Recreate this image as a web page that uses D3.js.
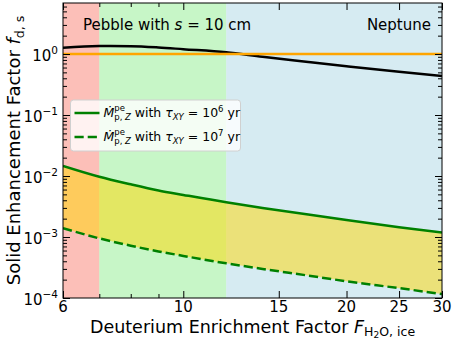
<!DOCTYPE html>
<html>
<head>
<meta charset="utf-8">
<script src="https://cdn.jsdelivr.net/npm/d3@7"></script>
<style>
body { margin: 0; background: #fff; }
text { font-family: "DejaVu Sans", sans-serif; fill: #000; white-space: pre; }
</style>
</head>
<body>
<svg class="chart" width="452" height="339"></svg>
<script>
// Values
var fEnrich = [6, 7, 8, 9, 10, 12, 14, 17, 20, 25, 30];
var fdPebble = [1.27, 1.35, 1.34, 1.28, 1.20, 1.07, 0.90, 0.74, 0.63, 0.51, 0.436];
var fdNeptune = [1, 1, 1, 1, 1, 1, 1, 1, 1, 1, 1];
var fdTau6 = [0.0146, 0.0097, 0.0073, 0.0058, 0.0049, 0.0037, 0.0030, 0.00233, 0.0019, 0.00145, 0.00118];
var fdTau7 = [0.0014, 0.00095, 0.00072, 0.00058, 0.00049, 0.00037, 0.00030, 0.000233, 0.000188, 0.000145, 0.000116];

// Shaded regimes along F
var regionStart = [6, 7, 12];
var regionEnd = [7, 12, 30];
var regionColor = ['#fa8072', '#90ee90', '#add8e6'];

var xMajorTicks = [6, 10, 15, 20, 25, 30];
var xMinorTicks = [7, 8, 9];
var yDomain = [1e-4, 6.86];

// Layout
var margin = {top: 3, right: 10, bottom: 41, left: 63};
var width = 452 - margin.left - margin.right;
var height = 339 - margin.top - margin.bottom;

var x = d3.scaleLog().domain([6, 30]).range([0, width]);
var y = d3.scaleLog().domain(yDomain).range([height, 0]);

var svg = d3.select('.chart');
var plot = svg.append('g')
  .attr('transform', 'translate(' + margin.left + ',' + margin.top + ')');

plot.append('clipPath').attr('id', 'clip')
  .append('rect').attr('width', width).attr('height', height);

var inner = plot.append('g').attr('clip-path', 'url(#clip)');

// Background regimes
inner.selectAll('.region')
  .data(regionStart)
  .enter()
  .append('rect')
  .attr('x', function (d) { return x(d); })
  .attr('width', function (d, i) { return x(regionEnd[i]) - x(d); })
  .attr('y', 0)
  .attr('height', height)
  .attr('fill', function (d, i) { return regionColor[i]; })
  .attr('fill-opacity', 0.5);

// Band between the two timescales
var band = d3.area()
  .x(function (d, i) { return x(fEnrich[i]); })
  .y0(function (d, i) { return y(fdTau7[i]); })
  .y1(function (d) { return y(d); })
  .curve(d3.curveMonotoneX);

inner.append('path')
  .datum(fdTau6)
  .attr('d', band)
  .attr('fill', 'gold')
  .attr('fill-opacity', 0.5);

function curve (values) {
  return d3.line()
    .x(function (d, i) { return x(fEnrich[i]); })
    .y(function (d) { return y(d); })
    .curve(d3.curveMonotoneX)(values);
}

inner.append('path').attr('d', curve(fdTau6))
  .attr('fill', 'none').attr('stroke', 'green').attr('stroke-width', 2.5);
inner.append('path').attr('d', curve(fdTau7))
  .attr('fill', 'none').attr('stroke', 'green').attr('stroke-width', 2.5)
  .attr('stroke-dasharray', '9.2,4');
inner.append('path').attr('d', curve(fdPebble))
  .attr('fill', 'none').attr('stroke', '#000').attr('stroke-width', 2.5);
inner.append('path').attr('d', curve(fdNeptune))
  .attr('fill', 'none').attr('stroke', 'orange').attr('stroke-width', 2.5);

// Text with sub/superscripts, built piece by piece
function richText (parent, px, py, parts, anchor, rotate) {
  var g = parent.append('g');
  var cx = 0, prevStart = 0, prevEnd = 0;
  parts.forEach(function (p) {
    var t = g.append('text')
      .attr('y', p.dy || 0)
      .style('font-size', p.size + 'px')
      .style('font-style', p.italic ? 'italic' : 'normal')
      .text(p.t);
    var w = t.node().getComputedTextLength();
    var start = p.stack ? prevStart : cx;
    t.attr('x', start);
    prevEnd = p.stack ? Math.max(prevEnd, start + w) : start + w;
    prevStart = start;
    cx = prevEnd;
  });
  var shift = anchor === 'middle' ? -cx / 2 : (anchor === 'end' ? -cx : 0);
  g.attr('transform', 'translate(' + px + ',' + py + ')' +
    (rotate ? ' rotate(' + rotate + ')' : '') + ' translate(' + shift + ',0)');
  return g;
}

// Annotations
richText(plot, 20, 27, [
  {t: 'Pebble with ', size: 15},
  {t: 's', size: 15, italic: true},
  {t: ' = 10 cm', size: 15}
], 'start');
richText(plot, 368, 27, [{t: 'Neptune', size: 15}], 'end');

// Legend
var legend = plot.append('g').attr('transform', 'translate(7.5,97)');
legend.append('rect')
  .attr('width', 170).attr('height', 51)
  .attr('rx', 3)
  .attr('fill', '#fff').attr('fill-opacity', 0.8)
  .attr('stroke', '#d0d0d0').attr('stroke-width', 1);

var legendDash = ['', '9.2,4'];
var legendExp = ['6', '7'];
legendDash.forEach(function (dash, i) {
  var ly = 13 + i * 24;
  legend.append('line')
    .attr('x1', 4).attr('x2', 29).attr('y1', ly).attr('y2', ly)
    .attr('stroke', 'green').attr('stroke-width', 2.5)
    .attr('stroke-dasharray', dash || null);
  richText(legend, 33, ly + 4, [
    {t: '\u1E40', size: 12.5, italic: true},
    {t: 'pe', size: 8.5, dy: -6.5},
    {t: 'p,', size: 8.5, dy: 3, stack: true},
    {t: 'Z', size: 8.5, dy: 3, italic: true},
    {t: ' with ', size: 12.5},
    {t: '\u03C4', size: 12.5, italic: true},
    {t: 'XY', size: 8.5, dy: 3, italic: true},
    {t: ' = 10', size: 12.5},
    {t: legendExp[i], size: 8.5, dy: -5.5},
    {t: ' yr', size: 12.5}
  ], 'start');
});

// Ticks, pointing inward on all four sides
var yTicks = y.ticks();
var isMajor = function (d) { return Math.abs(Math.log10(d) - Math.round(Math.log10(d))) < 1e-6; };

function tickSet (axisFn, scale, values, size, transform) {
  plot.append('g')
    .attr('transform', transform)
    .call(axisFn(scale).tickValues(values).tickSize(-size).tickFormat(''))
    .call(function (g) { g.select('.domain').remove(); })
    .selectAll('line').attr('stroke', '#000').attr('stroke-width', 1);
}

tickSet(d3.axisBottom, x, xMajorTicks, 7, 'translate(0,' + height + ')');
tickSet(d3.axisBottom, x, xMinorTicks, 4, 'translate(0,' + height + ')');
tickSet(d3.axisTop, x, xMajorTicks, 7, 'translate(0,0)');
tickSet(d3.axisTop, x, xMinorTicks, 4, 'translate(0,0)');
tickSet(d3.axisLeft, y, yTicks.filter(isMajor), 7, 'translate(0,0)');
tickSet(d3.axisLeft, y, yTicks.filter(function (d) { return !isMajor(d); }), 4, 'translate(0,0)');
tickSet(d3.axisRight, y, yTicks.filter(isMajor), 7, 'translate(' + width + ',0)');
tickSet(d3.axisRight, y, yTicks.filter(function (d) { return !isMajor(d); }), 4, 'translate(' + width + ',0)');

// Frame
plot.append('rect')
  .attr('width', width).attr('height', height)
  .attr('fill', 'none').attr('stroke', '#000').attr('stroke-width', 1);

// Tick labels
plot.selectAll('.xlabel')
  .data(xMajorTicks)
  .enter()
  .append('text')
  .attr('x', function (d) { return x(d); })
  .attr('y', height + 13.5)
  .attr('text-anchor', 'middle')
  .style('font-size', '15px')
  .text(function (d) { return d; });

yTicks.filter(isMajor).forEach(function (d) {
  var e = Math.round(Math.log10(d));
  richText(plot, -5, y(d) + 6.5, [
    {t: '10', size: 15},
    {t: e < 0 ? '\u2212' + (-e) : String(e), size: 10.5, dy: -7}
  ], 'end');
});

// Axis titles
richText(svg, margin.left + width / 2, 332.5, [
  {t: 'Deuterium Enrichment Factor ', size: 17.5},
  {t: 'F', size: 17.5, italic: true},
  {t: 'H', size: 12.5, dy: 3},
  {t: '2', size: 9, dy: 5.5},
  {t: 'O, ice', size: 12.5, dy: 3}
], 'middle');

richText(svg, 20, margin.top + height / 2, [
  {t: 'Solid Enhancement Factor ', size: 18},
  {t: 'f', size: 18, italic: true},
  {t: 'd, s', size: 12.5, dy: 3.5}
], 'middle', -90);
</script>
</body>
</html>
